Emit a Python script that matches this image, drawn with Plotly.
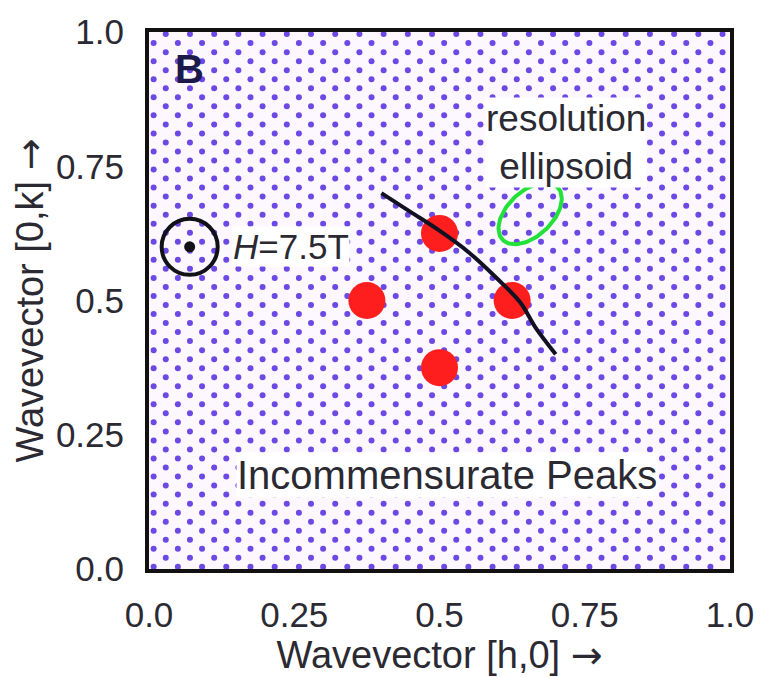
import numpy as np
import plotly.graph_objects as go

# ---- data ----
tick_vals = [0.0, 0.25, 0.5, 0.75, 1.0]
tick_text = ["0.0", "0.25", "0.5", "0.75", "1.0"]

peak_h = [0.375, 0.5, 0.625, 0.5]
peak_k = [0.5, 0.625, 0.5, 0.375]

curve_h = [0.40, 0.45, 0.50, 0.55, 0.60, 0.64, 0.665, 0.70]
curve_k = [0.70, 0.665, 0.63, 0.59, 0.54, 0.495, 0.45, 0.40]

field_h = [0.07]
field_k = [0.60]

# resolution ellipsoid (centre in data units, semi-axes in px, tilt in degrees)
ell_center = (0.656, 0.662)
ell_axes_px = (39, 23)
ell_tilt_deg = 45

# ---- layout geometry ----
W, H = 766, 677
ML, MR, MT, MB = 149, 29, 21, 97
PW, PH = W - ML - MR, H - MT - MB

FONT = "Liberation Sans, Arial, Helvetica, sans-serif"
TXT = "#2b2a33"
ARROW = '<span style="font-family:DejaVu Sans">→</span>'

fig = go.Figure()

# background stipple texture (staggered dot screen)
dx, dy = 24.5 / PW, 9.4 / PH
xs_all, ys_all = [], []
j = 0
y = 0.004
while y <= 1.0:
    off = 0.0 if j % 2 == 0 else dx / 2
    xr = np.arange(0.008 + off, 1.0, dx)
    xs_all.extend(xr.tolist())
    ys_all.extend([y] * len(xr))
    y += dy
    j += 1
fig.add_trace(go.Scatter(x=xs_all, y=ys_all, mode="markers",
                         marker=dict(size=6, color="rgb(108,72,228)", line=dict(width=0)),
                         hoverinfo="skip", showlegend=False))

# incommensurate peaks
fig.add_trace(go.Scatter(x=peak_h, y=peak_k, mode="markers",
                         marker=dict(size=37, color="#ff1e1e", line=dict(width=0)),
                         showlegend=False))

# arc
fig.add_trace(go.Scatter(x=curve_h, y=curve_k, mode="lines",
                         line=dict(color="#111122", width=4, shape="spline"),
                         showlegend=False))

# resolution ellipse
t = np.linspace(0, 2 * np.pi, 121)
a, b = ell_axes_px
th = np.deg2rad(ell_tilt_deg)
px = a * np.cos(t) * np.cos(th) - b * np.sin(t) * np.sin(th)
py = a * np.cos(t) * np.sin(th) + b * np.sin(t) * np.cos(th)
fig.add_trace(go.Scatter(x=ell_center[0] + px / PW, y=ell_center[1] + py / PH,
                         mode="lines", line=dict(color="#22e23a", width=4),
                         showlegend=False))

# field symbol
fig.add_trace(go.Scatter(x=field_h, y=field_k, mode="markers",
                         marker=dict(size=56, color="#111118", symbol="circle-open",
                                     line=dict(width=4, color="#111118")),
                         showlegend=False))
fig.add_trace(go.Scatter(x=field_h, y=field_k, mode="markers",
                         marker=dict(size=11, color="#111118"), showlegend=False))

annos = [
    dict(x=0.07, y=0.932, text="<b>B</b>", font=dict(size=40, color="#1c1a4a"),
         xanchor="center", yanchor="middle"),
    dict(x=0.142, y=0.6, text="<i>H</i>=7.5T", font=dict(size=35, color=TXT),
         xanchor="left", yanchor="middle", bgcolor="white", borderpad=0),
    dict(x=0.717, y=0.795, text="resolution<br>ellipsoid", font=dict(size=37, color=TXT),
         xanchor="center", yanchor="middle", bgcolor="white", borderpad=0),
    dict(x=0.513, y=0.175, text="Incommensurate Peaks", font=dict(size=40, color=TXT),
         xanchor="center", yanchor="middle", bgcolor="white", borderpad=0),
]
for an in annos:
    an.update(xref="x", yref="y", showarrow=False)
    an["font"]["family"] = FONT
    fig.add_annotation(**an)

axis_common = dict(range=[0, 1], tickvals=tick_vals, ticktext=tick_text,
                   showgrid=False, zeroline=False, showline=True, mirror=True,
                   linecolor="#111111", linewidth=4, ticks="outside",
                   tickcolor="rgba(0,0,0,0)",
                   tickfont=dict(family=FONT, size=35, color=TXT))

fig.update_xaxes(**axis_common, ticklen=12,
                 title=dict(text="Wavevector [h,0] " + ARROW, standoff=4,
                            font=dict(family=FONT, size=38, color=TXT)))
fig.update_yaxes(**axis_common, ticklen=14,
                 title=dict(text="Wavevector [0,k] " + ARROW, standoff=2,
                            font=dict(family=FONT, size=38, color=TXT)))

fig.update_layout(width=W, height=H, margin=dict(l=ML, r=MR, t=MT, b=MB, pad=0),
                  paper_bgcolor="white", plot_bgcolor="#fdf8ff", showlegend=False)

fig.write_html("out.html")
